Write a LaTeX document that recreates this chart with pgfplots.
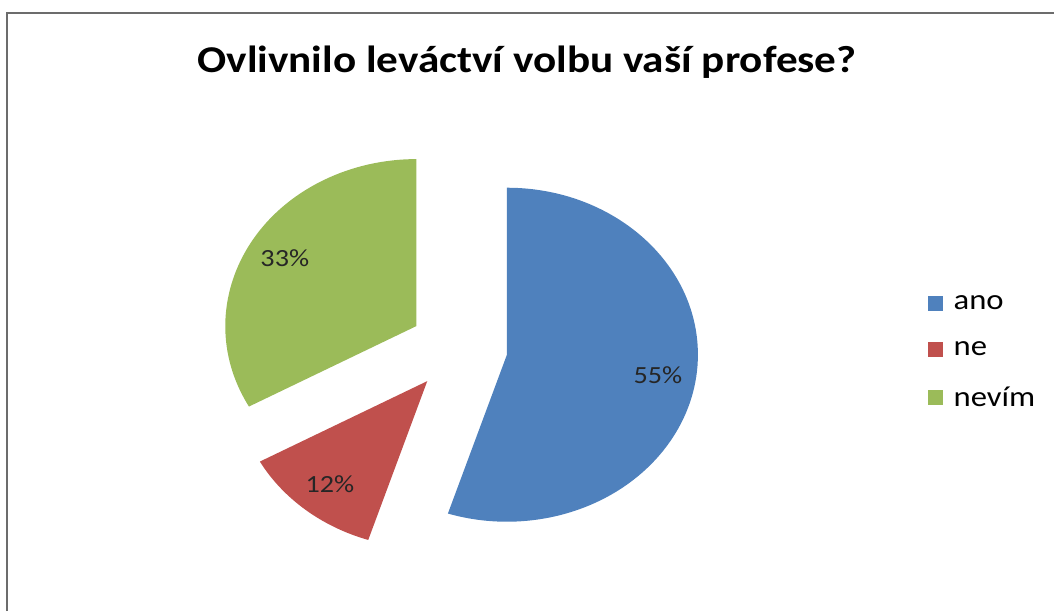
\documentclass[border=0pt]{standalone}
\usepackage{fontspec}
\setmainfont{Carlito}[FakeStretch=1.14]
\usepackage{pgfplots}
\usepackage{pgfplotstable}
\pgfplotsset{compat=1.18}

\definecolor{anoc}{HTML}{4F81BD}
\definecolor{nec}{HTML}{C0504D}
\definecolor{nevimc}{HTML}{9BBB59}

% pie data: share in percent, slices run clockwise from 12 o'clock
\pgfplotstableread[col sep=comma]{
label,value,color
ano,55,anoc
ne,12,nec
nevím,33,nevimc
}\piedata

% geometry in pixel units of the reference (1 unit = 0.75pt)
\def\pcx{458.5}\def\pcy{263}
\def\rx{191}\def\ry{167}
\def\expl{43}

\newcommand\slice[1]{%
  \pgfplotstablegetelem{#1}{value}\of\piedata \edef\v{\pgfplotsretval}%
  \pgfplotstablegetelem{#1}{color}\of\piedata \edef\c{\pgfplotsretval}%
  \pgfplotstablegetelem{#1}{label}\of\piedata \edef\l{\pgfplotsretval}%
  \pgfmathsetmacro\aend{\astart-3.6*\v}%
  \pgfmathsetmacro\amid{(\astart+\aend)/2}%
  \pgfmathsetmacro\cx{\pcx+\expl*1.14*cos(\amid)}%
  \pgfmathsetmacro\cy{\pcy+\expl*sin(\amid)}%
  \pgfmathsetmacro\lx{\cx+0.8*\rx*cos(\amid)}%
  \pgfmathsetmacro\ly{\cy+0.8*\ry*sin(\amid)}%
  \pgfmathsetmacro\rxpt{0.75*\rx}%
  \pgfmathsetmacro\rypt{0.75*\ry}%
  \edef\temp{%
    \noexpand\fill[\c] (axis cs:\cx,\cy) -- ++(\astart:\rxpt pt and \rypt pt)
      arc[start angle=\astart, end angle=\aend, x radius=\rxpt pt, y radius=\rypt pt] -- cycle;
    \noexpand\node[font=\noexpand\lblfont, text=black!85] at (axis cs:\lx,\ly) {\v\noexpand\%};
    \noexpand\addlegendimage{fill=\c}
    \noexpand\addlegendentry{\l}
  }\temp
  \xdef\astart{\aend}%
}
\newcommand\lblfont{\fontsize{18.5}{21}\selectfont}

\begin{document}
\begin{tikzpicture}
\useasboundingbox (0,0) rectangle (790.5pt,458.25pt);
\begin{axis}[
  at={(0,0)}, anchor=origin,
  x=0.75pt, y=0.75pt,
  xmin=0, xmax=1054, ymin=0, ymax=611,
  hide axis, clip=false,
  legend cell align=left,
  legend image code/.code={\fill[#1,draw=none] (0pt,-5.6pt) rectangle (11.25pt,5.6pt);
    \path[draw=none,fill=none] (0pt,0pt) (18pt,0pt);},
  legend style={at={(axis cs:924,320)}, anchor=north west, draw=none, fill=none,
    font=\fontsize{21.5}{24}\selectfont, row sep=20.5pt,
    nodes={inner sep=1pt, text=black}},
]
\draw[gray!85!black, line width=1.5pt] (axis cs:7,0) -- (axis cs:7,598) -- (axis cs:1054,598);
\node[font=\bfseries\fontsize{28.4}{32}\selectfont] at (axis cs:527,549) {Ovlivnilo leváctví volbu vaší profese?};
\xdef\astart{90}
\slice{0}
\slice{1}
\slice{2}
\end{axis}
\end{tikzpicture}
\end{document}
